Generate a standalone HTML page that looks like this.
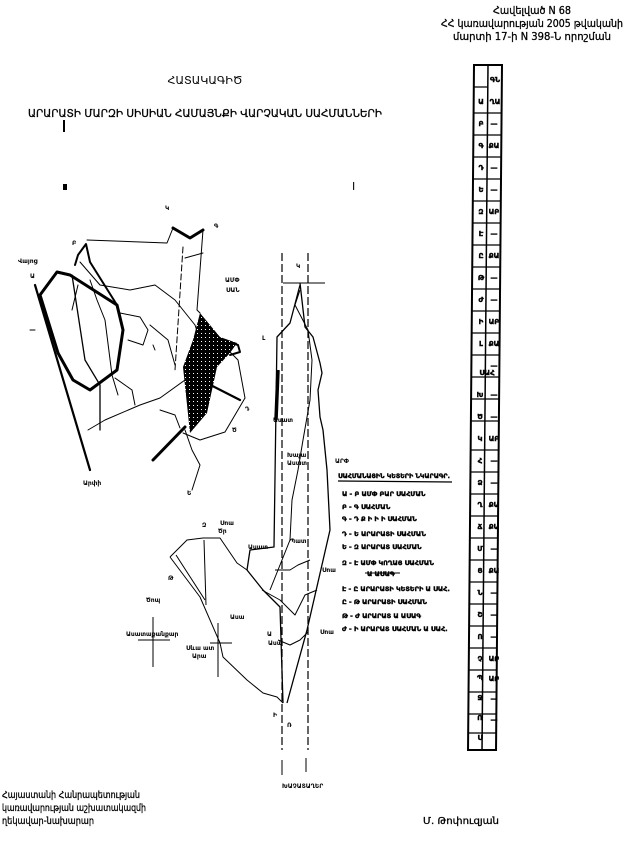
<!DOCTYPE html>
<html><head><meta charset="utf-8">
<style>
html,body{margin:0;padding:0;background:#fff;}
svg{display:block;}
text{font-family:"DejaVu Sans","Liberation Sans",sans-serif;fill:#000;}
</style></head>
<body>
<svg width="640" height="856" viewBox="0 0 640 856" xmlns="http://www.w3.org/2000/svg">
<defs>
<pattern id="h" width="4" height="4" patternUnits="userSpaceOnUse">
<rect width="4" height="4" fill="#000"/><rect x="1" y="1" width="1" height="1" fill="#fff"/>
</pattern>
</defs>
<!-- header -->
<g font-size="11" text-anchor="middle" stroke="#000" stroke-width="0.3">
<text x="532" y="14" textLength="78" lengthAdjust="spacingAndGlyphs">Հավելված N 68</text>
<text x="532" y="27" textLength="182" lengthAdjust="spacingAndGlyphs">ՀՀ կառավարության 2005 թվականի</text>
<text x="532" y="40" textLength="158" lengthAdjust="spacingAndGlyphs">մարտի 17-ի N 398-Ն որոշման</text>
</g>
<text x="205" y="84" font-size="11" text-anchor="middle" textLength="75" lengthAdjust="spacingAndGlyphs">ՀԱՏԱԿԱԳԻԾ</text>
<text x="205" y="117" font-size="11" text-anchor="middle" textLength="354" lengthAdjust="spacingAndGlyphs" stroke="#000" stroke-width="0.3">ԱՐԱՐԱՏԻ ՄԱՐԶԻ ՍԻՍԻԱՆ ՀԱՄԱՅՆՔԻ ՎԱՐՉԱԿԱՆ ՍԱՀՄԱՆՆԵՐԻ</text>
<rect x="63" y="120" width="2" height="12"/>
<rect x="63" y="184" width="4" height="6"/>
<text x="352" y="190" font-size="11">I</text>

<g fill="none" stroke="#000" stroke-linejoin="round" stroke-linecap="round">
<!-- left map -->
<path d="M35,285 L90,470" stroke-width="2.2"/>
<path d="M40,295 L57,272 L70,275 L117,305 L123,330 L117,370 L90,390 L73,380 L58,353 Z" stroke-width="3"/>
<path d="M72,275 L85,360 L100,385 L100,430" stroke-width="1.3"/>
<path d="M75,265 L78,255 L86,244 L90,262 L117,305" stroke-width="2"/>
<path d="M87,240 L167,243 L173,228" stroke-width="1"/>
<path d="M173,228 L190,238 L203,230" stroke-width="3"/>
<path d="M183,247 L175,370" stroke-width="1" stroke-dasharray="6,3"/>
<path d="M203,230 L197,310 L200,313" stroke-width="1"/>
<path d="M185,258 L203,253" stroke-width="1"/>
<path d="M80,262 L100,285 L130,290 L155,285 L175,300 L195,325 L200,340" stroke-width="1"/>
<path d="M90,280 L97,300 L105,320 L112,375 L118,395" stroke-width="1"/>
<path d="M120,313 L140,317 L148,330 L143,345 L128,340" stroke-width="1"/>
<path d="M150,325 L168,340 L175,365" stroke-width="1"/>
<path d="M88,430 L105,420 L140,405 L160,398 L185,380" stroke-width="1"/>
<path d="M115,378 L132,390 L135,405" stroke-width="1"/>
<path d="M185,372 L240,400" stroke-width="2.2"/>
<path d="M160,410 L175,415 L180,428" stroke-width="1"/>
<path d="M153,460 L185,427" stroke-width="3"/>
<path d="M185,430 L192,450 L200,465 L192,490" stroke-width="1"/>
<path d="M183,433 L200,440 L225,432 L245,398" stroke-width="1"/>
<path d="M228,350 L238,360 L245,398" stroke-width="1"/>
<path d="M232,343 L238,345 L240,352 L230,355" stroke-width="2"/>
<path d="M153,345 L155,350" stroke-width="1"/>
<path d="M78,285 L72,310" stroke-width="1"/>
<path d="M30,330 L35,330" stroke-width="1"/>
</g>
<path d="M200,313 L220,337 L237,343 L230,353 L217,367 L207,413 L190,433 L183,367 L193,340 Z" fill="url(#h)"/>
<g font-size="6" font-weight="bold">
<text x="18" y="263">Վայոց</text><text x="30" y="278">Ա</text>
<text x="83" y="485">Արփի</text>
<text x="225" y="282">ԱՄՓ</text><text x="226" y="292">ՍԱՆ</text>
<text x="72" y="245">Բ</text><text x="165" y="210">Կ</text><text x="214" y="228">Գ</text>
<text x="245" y="411">Դ</text><text x="232" y="432">Ծ</text><text x="187" y="495">Ե</text>
</g>

<!-- right map -->
<g fill="none" stroke="#000" stroke-linejoin="round">
<path d="M282,253 L282,750" stroke-width="1.2" stroke-dasharray="8,3"/>
<path d="M308,253 L308,750" stroke-width="1.2" stroke-dasharray="8,3"/>
<path d="M283,283 L325,283" stroke-width="1"/>
<path d="M300,283 L305,327 L313,337 L320,363 L322,373 L318,390 L320,417 L323,430 L327,470 L330,530 L307,630 L287,703" stroke-width="1.3"/>
<path d="M300,285 L290,323 L277,337 L274,547 L250,550 L247,570 L263,590 L280,607 L283,703" stroke-width="1.3"/>
<path d="M278,370 L276,420" stroke-width="3.5"/>
<path d="M300,290 L295,305 L308,330 L312,360 L310,400 L303,440 L298,470 L292,500 L290,540 L282,560 L270,590" stroke-width="1"/>
<path d="M275,570 L290,570 L298,565 L310,560" stroke-width="1"/>
<path d="M262,590 L280,600 L295,615 L305,595 L317,590" stroke-width="1"/>
<path d="M278,640 L290,645 L300,640 L308,632" stroke-width="1"/>
<path d="M170,557 L187,540 L203,538 L220,538 L237,563 L247,570" stroke-width="1"/>
<path d="M170,557 L200,597 L220,643 L223,657 L247,680 L263,693 L277,697 L283,703" stroke-width="1"/>
<path d="M176,555 L205,600" stroke-width="1"/>
<path d="M204,540 L206,605" stroke-width="1"/>
<path d="M210,643 L232,643" stroke-width="1"/>
<path d="M218,623 L218,677" stroke-width="1"/>
<path d="M153,617 L153,667" stroke-width="1"/>
<path d="M138,640 L170,640" stroke-width="1"/>
<path d="M282,760 L282,775 M306,758 L306,772" stroke-width="1"/>
<path d="M338,481 L452,482" stroke-width="1.2"/>
<path d="M365,573 L400,573" stroke-width="1"/>
</g>
<g font-size="6" font-weight="bold">
<text x="296" y="268">Կ</text>
<text x="262" y="340">Լ</text>
<text x="273" y="422">Ասատ</text>
<text x="287" y="457">Խաչա</text><text x="287" y="465">Ասատ</text>
<text x="335" y="463">ԱՐՓ</text>
<text x="290" y="543">Պատ</text>
<text x="248" y="549">Ասատ</text>
<text x="322" y="572">Սոա</text>
<text x="320" y="634">Սոա</text>
<text x="230" y="619">Ասա</text>
<text x="146" y="602">Ծոպ</text>
<text x="168" y="580">Թ</text>
<text x="202" y="527">Զ</text><text x="220" y="525">Սոա</text><text x="218" y="533">Ծր</text>
<text x="126" y="636">Ասատաքանքար</text>
<text x="186" y="650">Սևա ատ</text><text x="192" y="658">Արա</text>
<text x="267" y="636">Ա</text><text x="268" y="645">Ասա</text>
<text x="273" y="717">Ի</text><text x="287" y="727">Ռ</text>
<text x="282" y="788">ԽԱՉԱՏԱՂԵՐ</text>
</g>
<g font-size="6.5" font-weight="bold" stroke="#000" stroke-width="0.4">
<text x="338" y="478" textLength="112" lengthAdjust="spacingAndGlyphs">ՍԱՀՄԱՆԱՅԻՆ ԿԵՏԵՐԻ ՆԿԱՐԱԳՐ.</text>
<text x="342" y="496">Ա - Բ  ԱՄՓ ԲԱՐ ՍԱՀՄԱՆ</text>
<text x="342" y="509">Բ - Գ  ՍԱՀՄԱՆ</text>
<text x="342" y="521">Գ - Դ  Ք Ի Ի Ի   ՍԱՀՄԱՆ</text>
<text x="342" y="536">Դ - Ե  ԱՐԱՐԱՏԻ  ՍԱՀՄԱՆ</text>
<text x="342" y="549">Ե - Զ  ԱՐԱՐԱՏ  ՍԱՀՄԱՆ</text>
<text x="342" y="565">Զ - Է  ԱՄՓ ԿՈՂԱՅ  ՍԱՀՄԱՆ</text>
<text x="367" y="576">Ա ԱՍԱԳ</text>
<text x="342" y="591">Է - Ը  ԱՐԱՐԱՏԻ  ԿԵՏԵՐԻ Ա ՍԱՀ.</text>
<text x="342" y="604">Ը - Թ  ԱՐԱՐԱՏԻ  ՍԱՀՄԱՆ</text>
<text x="342" y="618">Թ - Ժ  ԱՐԱՐԱՏ  Ա ԱՍԱԳ</text>
<text x="342" y="631">Ժ - Ի  ԱՐԱՐԱՏ ՍԱՀՄԱՆ Ա ՍԱՀ.</text>
</g>

<!-- right table column -->
<g transform="translate(474,65) skewX(-0.5)" stroke="#000" fill="none">
<rect x="0" y="0" width="28" height="685" stroke-width="2"/>
<line x1="14" y1="0" x2="14" y2="685" stroke-width="1.5"/>
<g stroke-width="1.3">
<line x1="0" y1="22" x2="14" y2="22"/><line x1="0" y1="48" x2="28" y2="48"/>
<line x1="0" y1="70" x2="28" y2="70"/><line x1="0" y1="92" x2="28" y2="92"/>
<line x1="0" y1="114" x2="28" y2="114"/><line x1="0" y1="136" x2="28" y2="136"/>
<line x1="0" y1="158" x2="28" y2="158"/><line x1="0" y1="180" x2="28" y2="180"/>
<line x1="0" y1="202" x2="28" y2="202"/><line x1="0" y1="224" x2="28" y2="224"/>
<line x1="0" y1="246" x2="28" y2="246"/><line x1="0" y1="268" x2="28" y2="268"/>
<line x1="0" y1="290" x2="28" y2="290"/><line x1="0" y1="312" x2="28" y2="312"/>
<line x1="0" y1="334" x2="28" y2="334"/><line x1="0" y1="356" x2="28" y2="356"/>
<line x1="0" y1="385" x2="28" y2="385"/><line x1="0" y1="407" x2="28" y2="407"/>
<line x1="0" y1="429" x2="28" y2="429"/><line x1="0" y1="451" x2="28" y2="451"/>
<line x1="0" y1="473" x2="28" y2="473"/><line x1="0" y1="495" x2="28" y2="495"/>
<line x1="0" y1="517" x2="28" y2="517"/><line x1="0" y1="539" x2="28" y2="539"/>
<line x1="0" y1="561" x2="28" y2="561"/><line x1="0" y1="583" x2="28" y2="583"/>
<line x1="0" y1="605" x2="28" y2="605"/><line x1="0" y1="627" x2="28" y2="627"/>
<line x1="0" y1="649" x2="28" y2="649"/><line x1="0" y1="668" x2="28" y2="668"/>
</g>
</g>
<g font-size="7" font-weight="bold" text-anchor="middle" stroke="#000" stroke-width="0.4">
<text x="481" y="104">Ա</text><text x="481" y="126">Բ</text><text x="481" y="148">Գ</text><text x="481" y="170">Դ</text>
<text x="481" y="192">Ե</text><text x="481" y="214">Զ</text><text x="481" y="236">Է</text><text x="481" y="258">Ը</text>
<text x="481" y="280">Թ</text><text x="481" y="302">Ժ</text><text x="481" y="324">Ի</text><text x="481" y="346">Լ</text>
<text x="487" y="375">ՍԱՀ</text><text x="480" y="397">Խ</text><text x="480" y="419">Ծ</text><text x="480" y="441">Կ</text>
<text x="480" y="463">Հ</text><text x="480" y="485">Ձ</text><text x="480" y="507">Ղ</text><text x="480" y="529">Ճ</text>
<text x="480" y="551">Մ</text><text x="480" y="573">Յ</text><text x="480" y="595">Ն</text><text x="480" y="617">Շ</text>
<text x="480" y="639">Ո</text><text x="480" y="661">Չ</text><text x="480" y="680">Պ</text><text x="480" y="700">Ջ</text>
<text x="480" y="720">Ռ</text><text x="480" y="740">Ս</text>
<text x="495" y="82">ԳՆ</text><text x="495" y="104">ՂԱ</text>
<text x="494" y="126">—</text><text x="494" y="148">ՔԱ</text><text x="494" y="170">—</text><text x="494" y="192">—</text>
<text x="494" y="214">ԱԲ</text><text x="494" y="236">—</text><text x="494" y="258">ՔԱ</text><text x="494" y="280">—</text>
<text x="494" y="302">—</text><text x="494" y="324">ԱԲ</text><text x="494" y="346">ՔԱ</text><text x="494" y="368">—</text>
<text x="494" y="397">—</text><text x="494" y="419">—</text><text x="494" y="441">ԱԲ</text><text x="494" y="463">—</text>
<text x="494" y="485">—</text><text x="494" y="507">ՔԱ</text><text x="494" y="529">ՔԱ</text><text x="494" y="551">—</text>
<text x="494" y="573">ՔԱ</text><text x="494" y="595">—</text><text x="494" y="617">—</text><text x="494" y="639">—</text>
<text x="494" y="661">ԱԲ</text><text x="494" y="681">ԱԲ</text><text x="494" y="701">—</text><text x="494" y="722">—</text>
</g>

<!-- footer -->
<g font-size="10" stroke="#000" stroke-width="0.3">
<text x="2" y="798" textLength="138" lengthAdjust="spacingAndGlyphs">Հայաստանի Հանրապետության</text>
<text x="2" y="811" textLength="144" lengthAdjust="spacingAndGlyphs">կառավարության աշխատակազմի</text>
<text x="2" y="824" textLength="92" lengthAdjust="spacingAndGlyphs">ղեկավար-նախարար</text>
<text x="423" y="824" textLength="76" lengthAdjust="spacingAndGlyphs">Մ. Թոփուզյան</text>
</g>
</svg>
</body></html>
